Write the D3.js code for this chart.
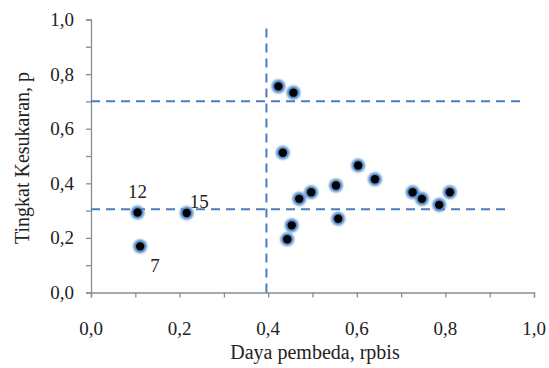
<!DOCTYPE html>
<html>
<head>
<meta charset="utf-8">
<script src="https://cdn.jsdelivr.net/npm/d3@7"></script>
<style>
  body { margin: 0; background: #fff; }
  svg { display: block; }
</style>
</head>
<body>
<div id="chart"></div>
<script>
// data
const dayaPembeda = [0.423, 0.457, 0.433, 0.603, 0.641, 0.470, 0.497, 0.553, 0.558, 0.453, 0.443, 0.726, 0.747, 0.786, 0.810, 0.105, 0.216, 0.111];
const kesukaran   = [0.755, 0.732, 0.512, 0.465, 0.415, 0.343, 0.367, 0.392, 0.270, 0.246, 0.195, 0.367, 0.343, 0.321, 0.367, 0.293, 0.291, 0.169];
const pointLabels = ["", "", "", "", "", "", "", "", "", "", "", "", "", "", "", "12", "15", "7"];

const tickValues = [0, 0.2, 0.4, 0.6, 0.8, 1.0];

// guide lines in data units
const guideVertical = { x: 0.396, y1: 0, y2: 0.985 };
const guideHorizontal = [
  { y: 0.701, x1: 0, x2: 0.97 },
  { y: 0.305, x1: 0, x2: 0.942 }
];

const width = 549, height = 368;
const margin = { top: 19.5, right: 15, bottom: 75.5, left: 91 };
const serif = "'Liberation Serif', Tinos, 'Times New Roman', Times, serif";

const svg = d3.select("#chart").append("svg")
  .attr("width", width)
  .attr("height", height)
  .attr("font-family", serif)
  .style("font-family", serif);

const x = d3.scaleLinear().domain([0, 1]).range([margin.left, 534]);
const y = d3.scaleLinear().domain([0, 1]).range([292.5, margin.top]);

const fmt = d => d3.format(".1f")(d).replace(".", ",");
const axisColor = "#8c8c8c";
const blue = "#4a7ebb";

// axes: minor ticks every 0.1, labels every 0.2
const minor = d3.range(0, 1.01, 0.1);

const xAxis = svg.append("g")
  .attr("transform", `translate(0,${y(0)})`)
  .call(d3.axisBottom(x).tickValues(minor).tickSize(5).tickFormat(""));
const yAxis = svg.append("g")
  .attr("transform", `translate(${x(0)},0)`)
  .call(d3.axisLeft(y).tickValues(minor).tickSize(5).tickFormat(""));

[xAxis, yAxis].forEach(g => {
  g.select(".domain").attr("stroke", axisColor).attr("stroke-width", 1.3);
  g.selectAll(".tick line").attr("stroke", axisColor).attr("stroke-width", 1.3);
});

svg.append("g").selectAll("text")
  .data(tickValues)
  .join("text")
    .attr("x", d => x(d))
    .attr("y", 335)
    .attr("text-anchor", "middle")
    .attr("font-size", 19)
    .attr("fill", "#222")
    .text(fmt);

svg.append("g").selectAll("text")
  .data(tickValues)
  .join("text")
    .attr("x", 74)
    .attr("y", d => y(d))
    .attr("dy", "0.34em")
    .attr("text-anchor", "end")
    .attr("font-size", 19)
    .attr("fill", "#222")
    .text(fmt);

// axis titles
svg.append("text")
  .attr("x", 315)
  .attr("y", 359)
  .attr("text-anchor", "middle")
  .attr("font-size", 20)
  .attr("fill", "#222")
  .text("Daya pembeda, rpbis");

svg.append("text")
  .attr("transform", `translate(29,${158}) rotate(-90)`)
  .attr("text-anchor", "middle")
  .attr("font-size", 20)
  .attr("fill", "#222")
  .text("Tingkat Kesukaran, p");

// dashed guide lines
const guides = svg.append("g")
  .attr("stroke", blue)
  .attr("stroke-width", 2)
  .attr("stroke-dasharray", "9,6");

guides.append("line")
  .attr("x1", x(guideVertical.x)).attr("x2", x(guideVertical.x))
  .attr("y1", y(guideVertical.y1)).attr("y2", y(guideVertical.y2));

guides.selectAll(".h")
  .data(guideHorizontal)
  .join("line")
    .attr("x1", d => x(d.x1)).attr("x2", d => x(d.x2))
    .attr("y1", d => y(d.y)).attr("y2", d => y(d.y));

// points: blue glow ring with black core
const points = dayaPembeda.map((d, i) => ({ dx: d, p: kesukaran[i], label: pointLabels[i] }));

const defs = svg.append("defs");
defs.append("filter").attr("id", "glow")
  .attr("x", "-50%").attr("y", "-50%").attr("width", "200%").attr("height", "200%")
  .append("feGaussianBlur").attr("stdDeviation", 0.9);

const dots = svg.append("g");
dots.selectAll(".ring")
  .data(points)
  .join("circle")
    .attr("cx", d => x(d.dx))
    .attr("cy", d => y(d.p))
    .attr("r", 6.8)
    .attr("fill", "#4f86c9")
    .attr("filter", "url(#glow)");

dots.selectAll(".core")
  .data(points)
  .join("circle")
    .attr("cx", d => x(d.dx))
    .attr("cy", d => y(d.p))
    .attr("r", 4.2)
    .attr("fill", "#000");

// item labels
const labelOffset = { "12": [0, -15, "middle"], "15": [3, -5, "start"], "7": [10, 26, "start"] };
svg.append("g").selectAll("text")
  .data(points.filter(d => d.label))
  .join("text")
    .attr("x", d => x(d.dx) + labelOffset[d.label][0])
    .attr("y", d => y(d.p) + labelOffset[d.label][1])
    .attr("text-anchor", d => labelOffset[d.label][2])
    .attr("font-size", 19)
    .attr("fill", "#222")
    .text(d => d.label);
</script>
</body>
</html>
